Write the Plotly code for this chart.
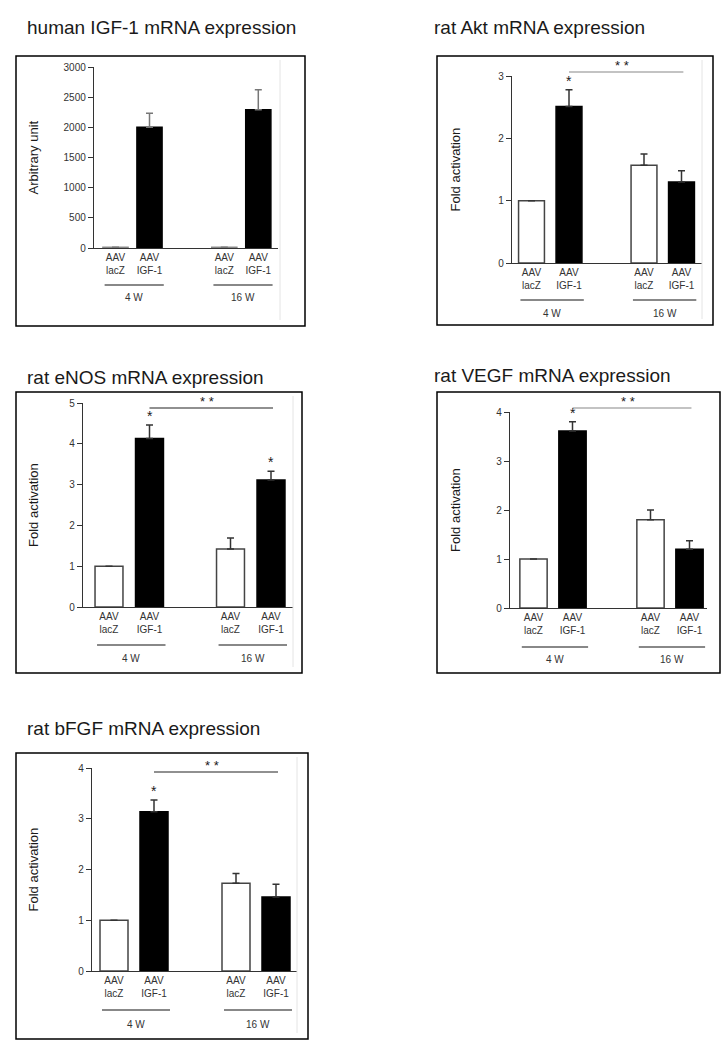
import plotly.graph_objects as go

# ---------------- data ----------------
groups = ["4 W", "16 W"]
vectors = ["AAV<br>lacZ", "AAV<br>IGF-1"]

titles = ["human IGF-1 mRNA expression", "rat Akt mRNA expression",
          "rat eNOS mRNA expression", "rat VEGF mRNA expression",
          "rat bFGF mRNA expression"]
y_titles = ["Arbitrary unit", "Fold activation", "Fold activation",
            "Fold activation", "Fold activation"]

# order: lacZ 4W, IGF-1 4W, lacZ 16W, IGF-1 16W
igf1_mean = [12, 2000, 12, 2290]
igf1_err = [0, 235, 0, 335]
akt_mean = [1.0, 2.51, 1.57, 1.30]
akt_err = [0, 0.27, 0.18, 0.18]
enos_mean = [1.0, 4.13, 1.42, 3.11]
enos_err = [0, 0.33, 0.27, 0.22]
vegf_mean = [1.0, 3.61, 1.80, 1.20]
vegf_err = [0, 0.19, 0.20, 0.17]
bfgf_mean = [1.0, 3.14, 1.73, 1.46]
bfgf_err = [0, 0.23, 0.19, 0.25]

igf1_star = [False, False, False, False]
akt_star = [False, True, False, False]
enos_star = [False, True, False, True]
vegf_star = [False, True, False, False]
bfgf_star = [False, True, False, False]

y_max = [3000, 3, 5, 4, 4]
y_step = [500, 1, 1, 1, 1]
has_bracket = [False, True, True, True, True]

means = [igf1_mean, akt_mean, enos_mean, vegf_mean, bfgf_mean]
errs = [igf1_err, akt_err, enos_err, vegf_err, bfgf_err]
stars = [igf1_star, akt_star, enos_star, vegf_star, bfgf_star]

# ---------------- layout geometry (screen pixels) ----------------
W, H = 725, 1050
panels = [
    dict(box=(16, 56, 305, 326), title=(25, 28), ytitle_x=33, edge=280,
         ax0=94, ax1=278, y0=248, ytop=67, c0=115.5, s=34, gap=3.2, bw=0.74,
         grey=True, cat_line=285, grp_lab=298, bracket_y=None, br_col="#222"),
    dict(box=(437, 56, 713, 325), title=(432, 28), ytitle_x=455, edge=702,
         ax0=512, ax1=702, y0=263, ytop=76, c0=531.5, s=37.5, gap=3.0, bw=0.69,
         grey=False, cat_line=300, grp_lab=313, bracket_y=72, br_col="#888"),
    dict(box=(16, 392, 302, 673), title=(25, 377), ytitle_x=33, edge=293,
         ax0=83, ax1=293, y0=607, ytop=403, c0=109, s=40.5, gap=3.0, bw=0.69,
         grey=False, cat_line=645, grp_lab=658, bracket_y=408, br_col="#222"),
    dict(box=(437, 392, 720, 673), title=(432, 375), ytitle_x=455, edge=None,
         ax0=510, ax1=707, y0=608, ytop=412, c0=533.5, s=39, gap=3.0, bw=0.70,
         grey=False, cat_line=647, grp_lab=659, bracket_y=408, br_col="#888"),
    dict(box=(16, 753, 308, 1039), title=(25, 728), ytitle_x=33, edge=297,
         ax0=92, ax1=297, y0=971, ytop=768, c0=114, s=40, gap=3.05, bw=0.70,
         grey=False, cat_line=1010, grp_lab=1024, bracket_y=772, br_col="#222"),
]

FONT = "Liberation Sans, Arial, Helvetica, sans-serif"
TXT = "#1a1a1a"

fig = go.Figure()
shapes = []
annotations = []
layout = {}


def py(p):
    return 1 - p / H


def pxx(p):
    return p / W


for i, P in enumerate(panels):
    n = "" if i == 0 else str(i + 1)
    xa, ya = "x" + n, "y" + n
    xpos = [g * P["gap"] + m for g in range(len(groups)) for m in range(len(vectors))]
    labels = [v for g in groups for v in vectors]
    m = means[i]
    e = errs[i]
    fills = ["white", "black", "white", "black"]
    if P["grey"]:
        lines = ["#888", "black", "#888", "black"]
        ecol = "#777"
    else:
        lines = ["#444", "black", "#444", "black"]
        ecol = "#333"
    fig.add_trace(go.Bar(
        x=xpos, y=m, width=P["bw"], xaxis=xa, yaxis=ya,
        marker=dict(color=fills, line=dict(color=lines, width=1.5)),
        error_y=dict(type="data", symmetric=False, array=e,
                     arrayminus=[0] * len(e), color=ecol, thickness=1.5, width=3.5,
                     visible=True),
        showlegend=False, hoverinfo="skip",
    ))
    xl = -(P["c0"] - P["ax0"]) / P["s"]
    xr = (P["ax1"] - P["c0"]) / P["s"]
    layout["xaxis" + n] = dict(
        domain=[pxx(P["ax0"]), pxx(P["ax1"])], anchor=ya, range=[xl, xr],
        tickmode="array", tickvals=xpos, ticktext=labels, ticks="",
        showline=True, linecolor="#333", linewidth=1.2, showgrid=False,
        zeroline=False, tickfont=dict(family=FONT, size=10, color="#333"),
        fixedrange=True, automargin=False,
    )
    layout["yaxis" + n] = dict(
        domain=[py(P["y0"]), py(P["ytop"])], anchor=xa, range=[0, y_max[i]],
        tickmode="linear", tick0=0, dtick=y_step[i], ticks="outside",
        ticklen=5, tickcolor="#333", tickwidth=1,
        showline=True, linecolor="#333", linewidth=1.2, showgrid=False,
        zeroline=False, tickfont=dict(family=FONT, size=10, color="#333"),
        fixedrange=True, automargin=False,
    )
    # panel frame
    b = P["box"]
    shapes.append(dict(type="rect", xref="paper", yref="paper",
                       x0=pxx(b[0]), x1=pxx(b[2]), y0=py(b[3]), y1=py(b[1]),
                       line=dict(color="black", width=1.5)))
    # faint scan edge inside the frame
    if P["edge"] is not None:
        shapes.append(dict(type="line", xref="paper", yref="paper",
                           x0=pxx(P["edge"]), x1=pxx(P["edge"]),
                           y0=py(b[3] - 6), y1=py(b[1] + 4),
                           line=dict(color="#e4e4e4", width=1)))
    # title
    annotations.append(dict(text=titles[i], xref="paper", yref="paper",
                            x=pxx(P["title"][0]), y=py(P["title"][1]),
                            xanchor="left", yanchor="middle", showarrow=False,
                            font=dict(family=FONT, size=19, color=TXT)))
    # y title
    annotations.append(dict(text=y_titles[i], xref="paper", yref="paper",
                            x=pxx(P["ytitle_x"]), y=py((P["y0"] + P["ytop"]) / 2),
                            xanchor="center", yanchor="middle", textangle=-90,
                            showarrow=False,
                            font=dict(family=FONT, size=13, color=TXT)))
    # group underlines and labels
    for g, gname in enumerate(groups):
        a = g * P["gap"]
        x0 = a - P["bw"] / 2 + 0.05
        x1 = a + 1 + P["bw"] / 2 + 0.05
        shapes.append(dict(type="line", xref=xa, yref="paper", x0=x0, x1=x1,
                           y0=py(P["cat_line"]), y1=py(P["cat_line"]),
                           line=dict(color="#888", width=2)))
        annotations.append(dict(text=gname, xref=xa, yref="paper",
                                x=(x0 + x1) / 2, y=py(P["grp_lab"]),
                                xanchor="center", yanchor="middle", showarrow=False,
                                font=dict(family=FONT, size=10, color="#333")))
    # significance stars
    for k, st in enumerate(stars[i]):
        if st:
            annotations.append(dict(text="*", xref=xa, yref=ya, x=xpos[k],
                                    y=m[k] + e[k], yanchor="bottom", yshift=-1,
                                    showarrow=False,
                                    font=dict(family=FONT, size=14, color=TXT)))
    # bracket
    if has_bracket[i]:
        yb = py(P["bracket_y"])
        bx0, bx1 = 1.0, P["gap"] + 1.05
        shapes.append(dict(type="line", xref=xa, yref="paper", x0=bx0, x1=bx1,
                           y0=yb, y1=yb, line=dict(color=P["br_col"], width=1.2)))
        annotations.append(dict(text="* *", xref=xa, yref="paper",
                                x=(bx0 + bx1) / 2 - 0.1,
                                y=yb, yanchor="bottom", yshift=-3, showarrow=False,
                                font=dict(family=FONT, size=13, color=TXT)))

fig.update_layout(
    width=W, height=H, autosize=False,
    margin=dict(l=0, r=0, t=0, b=0, pad=0, autoexpand=False),
    paper_bgcolor="white", plot_bgcolor="white",
    shapes=shapes, annotations=annotations, bargap=0,
    font=dict(family=FONT, color=TXT),
    **layout,
)

fig.write_html(
    "out.html",
    config={"displayModeBar": False, "staticPlot": True},
    post_script=("document.body.style.margin='0px';"
                 "document.body.style.overflow='hidden';"
                 "document.documentElement.style.overflow='hidden';"),
)
